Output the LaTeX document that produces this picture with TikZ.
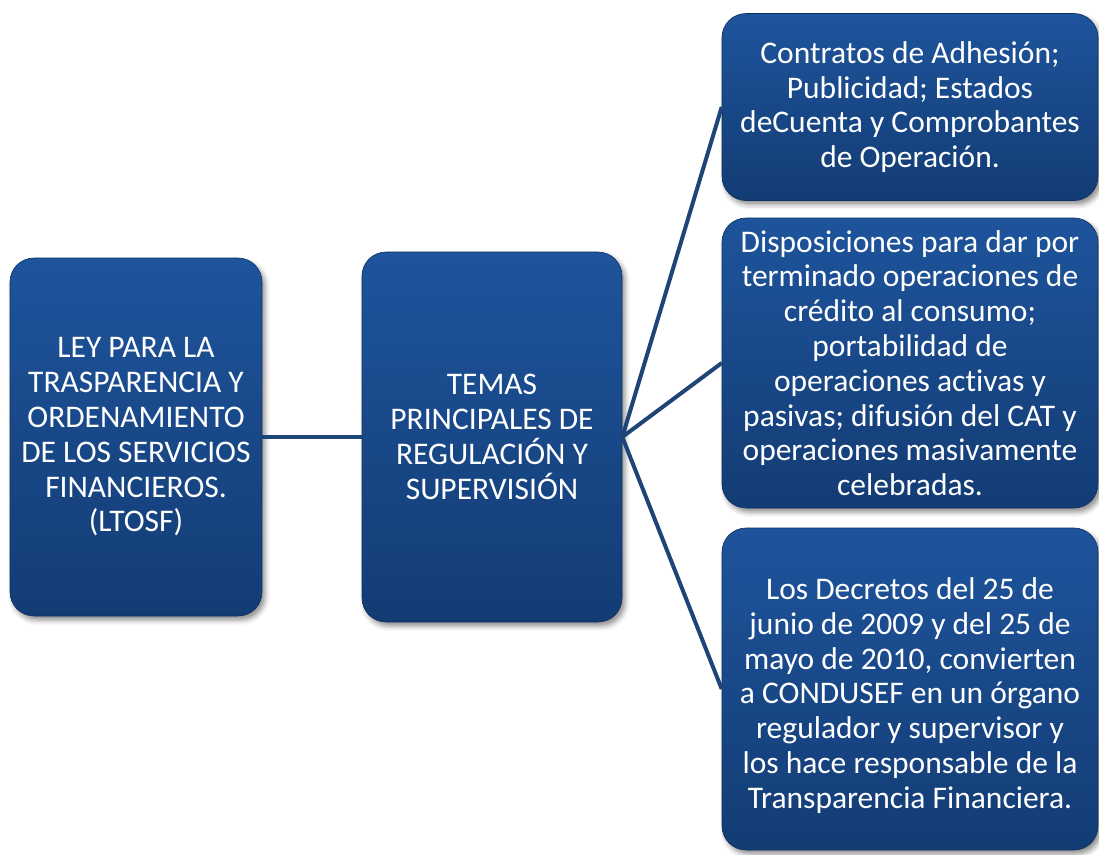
\documentclass[tikz,border=0pt]{standalone}
\usepackage{fontspec}
\setmainfont[Ligatures=NoCommon]{Carlito}
\usetikzlibrary{shadows.blur}
\definecolor{boxtop}{RGB}{30,84,156}
\definecolor{boxbot}{RGB}{19,60,116}
\definecolor{linec}{RGB}{30,68,120}
\tikzset{
  px/.style={x=1pt,y=-1pt},
  blockbox/.style={rounded corners=24pt, top color=boxtop, bottom color=boxbot,
    draw=boxbot!80!black, line width=0.6pt, text=white, align=center,
    font=\fontsize{31.5}{34.8}\selectfont, inner sep=0pt,
    blur shadow={shadow xshift=3pt, shadow yshift=-4pt, shadow blur radius=5pt, shadow opacity=45}},
  conn/.style={draw=linec, line width=4pt}
}
\begin{document}
\begin{tikzpicture}[px]
\useasboundingbox (0,0) rectangle (1099,854);
\node[blockbox, minimum width=252pt, minimum height=358pt] (L) at (136,437)
  {LEY PARA LA\\TRASPARENCIA Y\\ORDENAMIENTO\\DE LOS SERVICIOS\\FINANCIEROS.\\(LTOSF)};
\node[blockbox, minimum width=260pt, minimum height=370pt] (M) at (492,437)
  {TEMAS\\PRINCIPALES DE\\REGULACIÓN Y\\SUPERVISIÓN};
\node[blockbox, minimum width=376pt, minimum height=187pt] (T) at (910,107)
  {Contratos de Adhesión;\\Publicidad; Estados\\deCuenta y Comprobantes\\de Operación.};
\node[blockbox, minimum width=376pt, minimum height=290pt] (C) at (910,363)
  {Disposiciones para dar por\\terminado operaciones de\\crédito al consumo;\\portabilidad de\\operaciones activas y\\pasivas; difusión del CAT y\\operaciones masivamente\\celebradas.};
\node[blockbox, minimum width=376pt, minimum height=322pt] (B) at (910,689)
  {\\Los Decretos del 25 de\\junio de 2009 y del 25 de\\mayo de 2010, convierten\\a CONDUSEF en un órgano\\regulador y supervisor y\\los hace responsable de la\\Transparencia Financiera.};
\draw[conn] (L.east) -- (M.west);
\draw[conn] (M.east) -- (T.west);
\draw[conn] (M.east) -- (C.west);
\draw[conn] (M.east) -- (B.west);
\end{tikzpicture}
\end{document}
